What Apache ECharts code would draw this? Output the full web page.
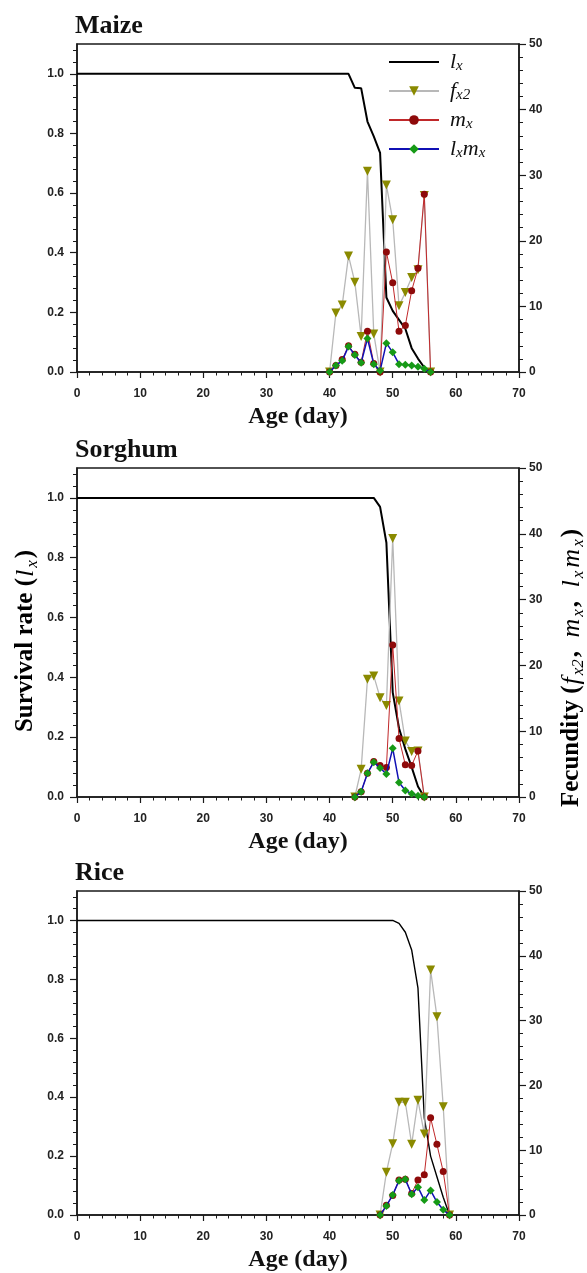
<!DOCTYPE html>
<html>
<head>
<meta charset="utf-8">
<script src="https://cdn.jsdelivr.net/npm/echarts@6/dist/echarts.min.js"></script>
<style>
html,body{margin:0;padding:0;background:#fff;}
#c{width:587px;height:1273px;}
</style>
</head>
<body>
<div id="c"></div>
<script>
// ---------- data ----------
const panelNames = ['Maize', 'Sorghum', 'Rice'];
const xTicks = [0, 10, 20, 30, 40, 50, 60, 70];
const leftTicks = [0, 0.2, 0.4, 0.6, 0.8, 1.0];
const rightTicks = [0, 10, 20, 30, 40, 50];

// Maize
const maizeAge = [40, 41, 42, 43, 44, 45, 46, 47, 48, 49, 50, 51, 52, 53, 54, 55, 56];
const maizeFx2 = [0, 9.0, 10.2, 17.7, 13.7, 5.4, 30.6, 5.8, 0, 28.5, 23.2, 10.1, 12.1, 14.4, 15.6, 26.9, 0];
const maizeMx  = [0, 1.0, 1.9, 4.0, 2.7, 1.5, 6.2, 1.3, 0, 18.3, 13.6, 6.2, 7.1, 12.4, 15.8, 27.1, 0];
const maizeLxMx = [0, 1.0, 1.7, 3.9, 2.6, 1.4, 5.1, 1.2, 0.2, 4.4, 3.0, 1.2, 1.1, 1.0, 0.8, 0.5, 0];
const maizeLxAge = [0, 43, 44, 45, 46, 47, 48, 49, 50, 51, 52, 53, 54, 55, 56];
const maizeLx = [1, 1, 0.953, 0.952, 0.84, 0.79, 0.735, 0.25, 0.205, 0.175, 0.145, 0.08, 0.045, 0.015, 0];

// Sorghum
const sorghumAge = [44, 45, 46, 47, 48, 49, 50, 51, 52, 53, 54, 55];
const sorghumFx2 = [0, 4.2, 17.9, 18.4, 15.1, 13.9, 39.3, 14.6, 8.5, 6.9, 7.0, 0];
const sorghumMx  = [0, 0.8, 3.6, 5.4, 4.8, 4.5, 23.1, 8.9, 4.9, 4.8, 7.0, 0];
const sorghumLxMx = [0, 0.8, 3.6, 5.3, 4.4, 3.5, 7.4, 2.2, 1.0, 0.5, 0.2, 0];
const sorghumLxAge = [0, 47, 48, 49, 50, 51, 52, 53, 54, 55];
const sorghumLx = [1, 1, 0.97, 0.85, 0.35, 0.23, 0.16, 0.10, 0.035, 0];

// Rice
const riceAge = [48, 49, 50, 51, 52, 53, 54, 55, 56, 57, 58, 59];
const riceFx2 = [0, 6.6, 11.0, 17.4, 17.4, 10.9, 17.7, 12.5, 37.8, 30.6, 16.7, 0];
const riceMx  = [0, 1.5, 3.0, 5.4, 5.5, 3.3, 5.4, 6.2, 15.0, 10.9, 6.7, 0];
const riceLxMx = [0, 1.4, 3.1, 5.3, 5.5, 3.2, 4.3, 2.3, 3.8, 2.0, 0.8, 0];
const riceLxAge = [0, 50, 51, 52, 53, 54, 55, 56, 57, 58, 59];
const riceLx = [1, 1, 0.99, 0.96, 0.9, 0.77, 0.33, 0.2, 0.13, 0.06, 0];

const panels = [
  {age: maizeAge, fx2: maizeFx2, mx: maizeMx, lxmx: maizeLxMx, lxAge: maizeLxAge, lx: maizeLx, lxW: 2},
  {age: sorghumAge, fx2: sorghumFx2, mx: sorghumMx, lxmx: sorghumLxMx, lxAge: sorghumLxAge, lx: sorghumLx, lxW: 2},
  {age: riceAge, fx2: riceFx2, mx: riceMx, lxmx: riceLxMx, lxAge: riceLxAge, lx: riceLx, lxW: 1.4}
];

// ---------- layout ----------
const grids = [
  {left: 77, top: 44, width: 442, height: 328},
  {left: 77, top: 468, width: 442, height: 329},
  {left: 77, top: 891, width: 442, height: 327}
];
const SERIF = '"Liberation Serif", "Times New Roman", serif';
const SANS = '"Liberation Sans", Arial, sans-serif';
const AX = '#1a1a1a';

const pair = (xs, ys) => xs.map((x, i) => [x, ys[i]]);

const xAxes = [], yAxes = [], series = [], titles = [];
grids.forEach((g, p) => {
  titles.push({
    text: panelNames[p], left: 75, top: g.top - 31, padding: 0,
    textStyle: {fontFamily: SERIF, fontWeight: 'bold', fontSize: 26, color: '#111'}
  });
  xAxes.push({
    type: 'value', gridIndex: p, min: 0, max: 70, interval: 10,
    name: 'Age (day)', nameLocation: 'middle', nameGap: 33,
    nameTextStyle: {fontFamily: SERIF, fontWeight: 'bold', fontSize: 24, color: '#111'},
    axisLine: {show: true, onZero: false, lineStyle: {color: AX, width: 1.5}},
    axisTick: {show: true, inside: false, length: 6, lineStyle: {color: AX, width: 1.2}, customValues: xTicks},
    minorTick: {show: true, splitNumber: 5, length: 3.5, lineStyle: {color: AX, width: 1}},
    axisLabel: {margin: 16, fontFamily: SANS, fontWeight: 'bold', fontSize: 12, color: '#222', customValues: xTicks},
    splitLine: {show: false}, minorSplitLine: {show: false}
  });
  yAxes.push({
    type: 'value', gridIndex: p, position: 'left', min: 0, max: 1.1, interval: 0.2,
    axisLine: {show: true, onZero: false, lineStyle: {color: AX, width: 1.5}},
    axisTick: {show: true, inside: false, length: 7, lineStyle: {color: AX, width: 1.2}, customValues: leftTicks},
    minorTick: {show: true, splitNumber: 5, length: 4, lineStyle: {color: AX, width: 1}},
    axisLabel: {margin: 13, fontFamily: SANS, fontWeight: 'bold', fontSize: 12, color: '#222',
      customValues: leftTicks, formatter: v => v.toFixed(1)},
    splitLine: {show: false}, minorSplitLine: {show: false}
  });
  yAxes.push({
    type: 'value', gridIndex: p, position: 'right', min: 0, max: 50, interval: 10,
    axisLine: {show: true, onZero: false, lineStyle: {color: AX, width: 1.5}},
    axisTick: {show: true, inside: false, length: 7, lineStyle: {color: AX, width: 1.2}, customValues: rightTicks},
    minorTick: {show: true, splitNumber: 5, length: 4, lineStyle: {color: AX, width: 1}},
    axisLabel: {margin: 10, fontFamily: SANS, fontWeight: 'bold', fontSize: 12, color: '#222', customValues: rightTicks},
    splitLine: {show: false}, minorSplitLine: {show: false}
  });
  const d = panels[p];
  series.push({
    name: 'lx', type: 'line', xAxisIndex: p, yAxisIndex: 2 * p,
    data: pair(d.lxAge, d.lx), symbol: 'none', z: 2,
    lineStyle: {color: '#000', width: d.lxW}, itemStyle: {color: '#000'}
  });
  series.push({
    name: 'fx2', type: 'line', xAxisIndex: p, yAxisIndex: 2 * p + 1,
    data: pair(d.age, d.fx2), symbol: 'triangle', symbolRotate: 180, symbolSize: 9, z: 3,
    lineStyle: {color: '#b8b8b8', width: 1.3}, itemStyle: {color: '#8a8a00'}
  });
  series.push({
    name: 'mx', type: 'line', xAxisIndex: p, yAxisIndex: 2 * p + 1,
    data: pair(d.age, d.mx), symbol: 'circle', symbolSize: 7, z: 4,
    lineStyle: {color: '#c0282a', width: 1}, itemStyle: {color: '#8e0a0a'}
  });
  series.push({
    name: 'lxmx', type: 'line', xAxisIndex: p, yAxisIndex: 2 * p + 1,
    data: pair(d.age, d.lxmx), symbol: 'diamond', symbolSize: 8, z: 5,
    lineStyle: {color: '#1010b4', width: 1.5}, itemStyle: {color: '#169a16'}
  });
});

const subRich = {
  i: {fontFamily: SERIF, fontStyle: 'italic', fontSize: 22, color: '#111', lineHeight: 24, verticalAlign: 'middle'},
  s: {fontFamily: SERIF, fontStyle: 'italic', fontSize: 15, color: '#111', lineHeight: 12, verticalAlign: 'bottom'}
};
const legendLabel = {
  lx: '{i|l}{s|x}',
  fx2: '{i|f}{s|x2}',
  mx: '{i|m}{s|x}',
  lxmx: '{i|l}{s|x}{i|m}{s|x}'
};

const nameRich = {
  b: {fontFamily: SERIF, fontWeight: 'bold', fontSize: 25, color: '#111', lineHeight: 30, verticalAlign: 'middle'},
  i: {fontFamily: SERIF, fontStyle: 'italic', fontSize: 26, color: '#111', lineHeight: 30, verticalAlign: 'middle', padding: [0, 1, 0, 1]},
  s: {fontFamily: SERIF, fontStyle: 'italic', fontSize: 17, color: '#111', lineHeight: 14, verticalAlign: 'bottom', padding: [0, 2, 0, 1]}
};

const chart = echarts.init(document.getElementById('c'), null, {renderer: 'canvas'});
chart.setOption({
  backgroundColor: '#fff',
  animation: false,
  title: titles,
  grid: grids.map(g => Object.assign({show: true, borderColor: AX, borderWidth: 1.5, backgroundColor: 'transparent'}, g)),
  xAxis: xAxes,
  yAxis: yAxes,
  legend: {
    data: [
      {name: 'lx', itemStyle: {color: 'rgba(0,0,0,0)', borderWidth: 0}},
      'fx2', 'mx', 'lxmx'
    ],
    orient: 'vertical', left: 388, top: 51, padding: 0,
    itemWidth: 50, itemHeight: 12, itemGap: 6,
    formatter: name => legendLabel[name],
    textStyle: {rich: subRich, padding: [0, 0, 0, 6]}
  },
  graphic: [
    {type: 'text', x: 26, y: 641, rotation: Math.PI / 2,
      style: {text: '{b|Survival rate (}{i|l}{s|x}{b|)}', rich: nameRich, align: 'center', verticalAlign: 'middle'}},
    {type: 'text', x: 572, y: 668, rotation: Math.PI / 2,
      style: {text: '{b|Fecundity (}{i|f}{s|x2}{b|,  }{i|m}{s|x}{b|,  }{i|l}{s|x}{i|m}{s|x}{b|)}', rich: nameRich, align: 'center', verticalAlign: 'middle'}}
  ],
  series: series
});
</script>
</body>
</html>
